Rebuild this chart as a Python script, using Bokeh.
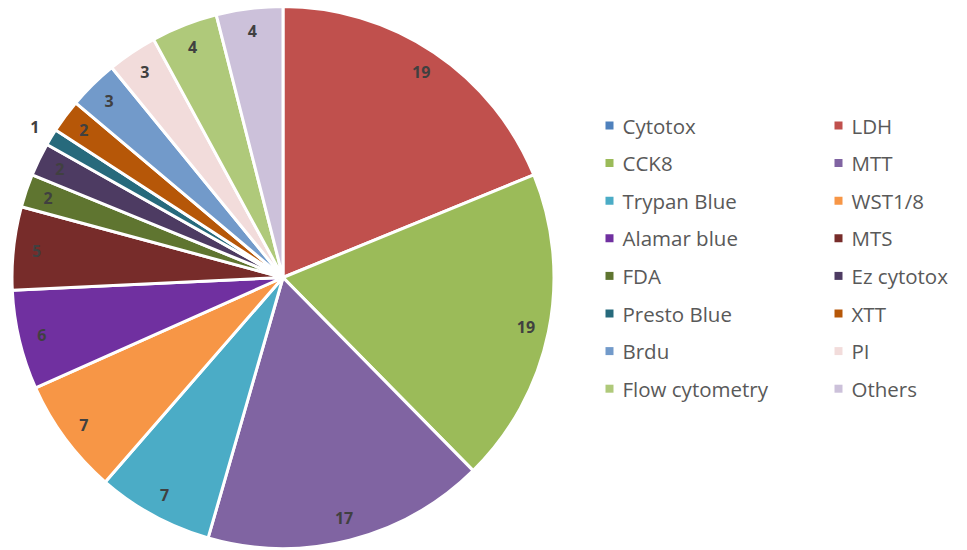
import math
from bokeh.plotting import figure
from bokeh.models import ColumnDataSource, Range1d
from bokeh.core.properties import value
from bokeh.embed import file_html
from bokeh.resources import INLINE

categories = ["Cytotox", "LDH", "CCK8", "MTT", "Trypan Blue", "WST1/8", "Alamar blue",
              "MTS", "FDA", "Ez cytotox", "Presto Blue", "XTT", "Brdu", "PI",
              "Flow cytometry", "Others"]
counts = [0, 19, 19, 17, 7, 7, 6, 5, 2, 2, 1, 2, 3, 3, 4, 4]
colors = ["#4F81BD", "#C0504D", "#9BBB59", "#8064A2", "#4BACC6", "#F79646", "#7030A0",
          "#772C2A", "#5F7530", "#4D3B62", "#276A7C", "#B65708", "#729ACA", "#F2DCDB",
          "#AFC97A", "#CCC1DA"]

W, H = 967, 550
# page -> figure data coords (1 unit = 1 px)
def px(xp):
    return xp
def py(yp):
    return H - yp

cx, cy, R = px(282.5), py(277), 271
total = float(sum(counts))

starts, ends = [], []
cum = 0.0
for v in counts:
    a0 = math.pi / 2 - cum / total * 2 * math.pi
    cum += v
    a1 = math.pi / 2 - cum / total * 2 * math.pi
    starts.append(a0)
    ends.append(a1)

p = figure(width=W, height=H, output_backend="svg", toolbar_location=None,
           x_range=Range1d(0, W), y_range=Range1d(0, H), min_border=0)
p.axis.visible = False
p.grid.visible = False
p.outline_line_color = None
p.background_fill_color = "white"

src = ColumnDataSource(dict(start=starts, end=ends, color=colors))
p.wedge(x=cx, y=cy, radius=R, start_angle="start", end_angle="end", direction="clock",
        fill_color="color", line_color="white", line_width=3, source=src)

# data labels
lx, ly, lt = [], [], []
for v, a0, a1 in zip(counts, starts, ends):
    if v <= 0:
        continue
    mid = (a0 + a1) / 2
    r = 248 if v / total > 0.012 else 290
    lx.append(cx + r * math.cos(mid))
    ly.append(cy + r * math.sin(mid))
    lt.append(str(v))
p.text(x=lx, y=ly, text=lt, text_align="center", text_baseline="middle",
       text_font=value("Open Sans"), text_font_size="16px", text_font_style="bold",
       text_color="#404040")

# legend (two columns)
mx, my, tx, ty, tt, mc = [], [], [], [], [], []
for i, (name, c) in enumerate(zip(categories, colors)):
    col, row = i % 2, i // 2
    mxp = 609 if col == 0 else 838
    txp = 622 if col == 0 else 851
    yp = 125 + row * 37.6
    mx.append(px(mxp)); my.append(py(yp)); mc.append(c)
    tx.append(px(txp)); ty.append(py(yp)); tt.append(name)
p.rect(x=mx, y=my, width=8, height=8, fill_color=mc, line_color=None)
p.text(x=tx, y=ty, text=tt, text_align="left", text_baseline="middle",
       text_font=value("Open Sans"), text_font_size="20.5px", text_color="#595959")

open("out.html", "w").write(file_html(p, INLINE))
